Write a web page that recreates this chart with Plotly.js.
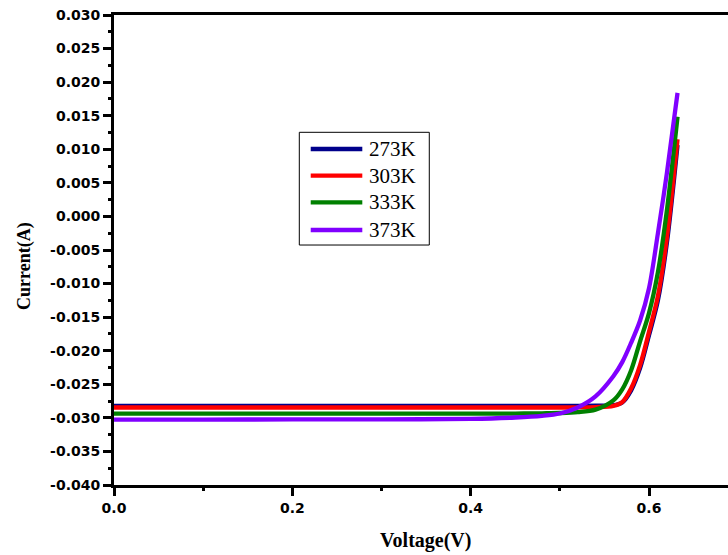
<!DOCTYPE html>
<html>
<head>
<meta charset="utf-8">
<script src="https://cdn.plot.ly/plotly-3.0.1.min.js"></script>
<style>html,body{margin:0;padding:0;background:#fff;overflow:hidden}#chart{width:728px;height:555px}</style>
</head>
<body>
<div id="chart"></div>
<script>
// Voltage (V) sample points
const voltage = [0, 0.1, 0.2, 0.3, 0.4, 0.45, 0.48, 0.50, 0.52, 0.54, 0.56, 0.57, 0.58, 0.59, 0.60, 0.61, 0.62, 0.632];
// Current (A) per temperature
const current273K = [-0.02821, -0.02821, -0.02821, -0.02821, -0.02821, -0.02821, -0.02821, -0.02821, -0.02821, -0.02820, -0.02812, -0.02770, -0.02590, -0.02260, -0.01770, -0.01250, -0.00400, 0.01064];
const current303K = [-0.02846, -0.02846, -0.02846, -0.02846, -0.02846, -0.02846, -0.02846, -0.02846, -0.02845, -0.02840, -0.02822, -0.02765, -0.02560, -0.02215, -0.01720, -0.01185, -0.00320, 0.01149];
const current333K = [-0.02938, -0.02938, -0.02938, -0.02938, -0.02938, -0.02936, -0.02932, -0.02928, -0.02915, -0.02878, -0.02740, -0.02575, -0.02290, -0.01860, -0.01440, -0.00830, 0.00085, 0.01485];
const current373K = [-0.03025, -0.03025, -0.03024, -0.03022, -0.03015, -0.02995, -0.02970, -0.02935, -0.02845, -0.02680, -0.02380, -0.02170, -0.01880, -0.01550, -0.01070, -0.00250, 0.00640, 0.01840];

const seriesNames = ['273K', '303K', '333K', '373K'];
const seriesColors = ['#00008B', '#FF0000', '#008000', '#8000FF'];
const seriesValues = [current273K, current303K, current333K, current373K];

// Tick labels
const yTickVals = [0.030, 0.025, 0.020, 0.015, 0.010, 0.005, 0.000, -0.005, -0.010, -0.015, -0.020, -0.025, -0.030, -0.035, -0.040];
const yTickText = ['0.030', '0.025', '0.020', '0.015', '0.010', '0.005', '0.000', '-0.005', '-0.010', '-0.015', '-0.020', '-0.025', '-0.030', '-0.035', '-0.040'];
const xTickVals = [0.0, 0.2, 0.4, 0.6];
const xTickText = ['0.0', '0.2', '0.4', '0.6'];

const traces = seriesNames.map((n, i) => ({
  x: voltage,
  y: seriesValues[i],
  name: n,
  type: 'scatter',
  mode: 'lines',
  line: {color: seriesColors[i], width: 4.3, shape: 'spline', smoothing: 0.9}
}));

// Legend drawn in paper coordinates (box, sample lines, labels)
const legBox = {x0: 0.3018, x1: 0.5135, y0: 0.5106, y1: 0.7504};
const legRowY = [0.7149, 0.6581, 0.6015, 0.5426];
const shapes = [{type: 'rect', xref: 'paper', yref: 'paper', x0: legBox.x0, x1: legBox.x1, y0: legBox.y0, y1: legBox.y1,
  line: {color: '#000', width: 1}, fillcolor: '#fff', layer: 'above'}];
const annotations = [];
seriesNames.forEach((n, i) => {
  shapes.push({type: 'line', xref: 'paper', yref: 'paper', x0: 0.3204, x1: 0.4044, y0: legRowY[i], y1: legRowY[i],
    line: {color: seriesColors[i], width: 4.3}, layer: 'above'});
  annotations.push({xref: 'paper', yref: 'paper', x: 0.4125, y: legRowY[i], xanchor: 'left', yanchor: 'middle',
    text: n, showarrow: false, font: {family: 'Liberation Serif', size: 21, color: '#000'}});
});
annotations.push({xref: 'paper', yref: 'paper', x: -0.145, y: 0.466, xanchor: 'center', yanchor: 'middle', textangle: -90,
  text: '<b>Current(A)</b>', showarrow: false, font: {family: 'Liberation Serif', size: 18, color: '#000'}});
annotations.push({xref: 'paper', yref: 'paper', x: 0.5073, y: -0.119, xanchor: 'center', yanchor: 'middle',
  text: '<b>Voltage(V)</b>', showarrow: false, font: {family: 'Liberation Serif', size: 20, color: '#000'}});

const tickFont = {family: 'DejaVu Sans', size: 14, color: '#000', weight: 'bold'};
const layout = {
  width: 728, height: 555,
  margin: {l: 114, r: 0, t: 15, b: 70},
  paper_bgcolor: '#fff', plot_bgcolor: '#fff',
  showlegend: false,
  shapes: shapes,
  annotations: annotations,
  xaxis: {
    range: [0, 0.6886],
    tickmode: 'array', tickvals: xTickVals, ticktext: xTickText,
    ticks: 'outside', ticklen: 8, tickwidth: 3, tickcolor: '#000',
    minor: {ticks: 'outside', dtick: 0.1, tick0: 0, ticklen: 3, tickwidth: 3, tickcolor: '#000'},
    showline: true, linecolor: '#000', linewidth: 3, mirror: true,
    showgrid: false, zeroline: false,
    tickfont: tickFont
  },
  yaxis: {
    range: [-0.04, 0.03],
    tickmode: 'array', tickvals: yTickVals, ticktext: yTickText,
    ticks: 'outside', ticklen: 8, tickwidth: 3, tickcolor: '#000',
    minor: {ticks: 'outside', dtick: 0.0025, tick0: 0, ticklen: 3, tickwidth: 3, tickcolor: '#000'},
    showline: true, linecolor: '#000', linewidth: 3, mirror: false,
    showgrid: false, zeroline: false,
    tickfont: tickFont
  }
};

Plotly.newPlot('chart', traces, layout, {displayModeBar: false, staticPlot: true});
</script>
</body>
</html>
